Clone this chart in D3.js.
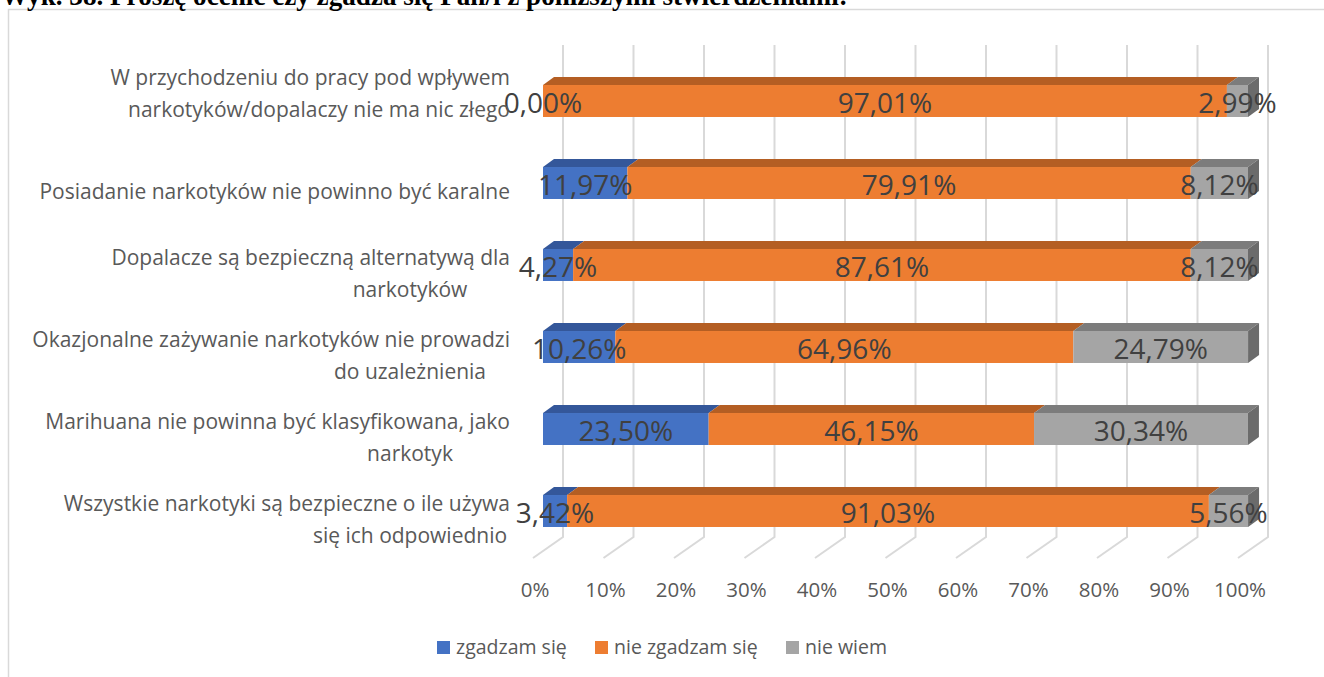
<!DOCTYPE html>
<html><head><meta charset="utf-8">
<script src="https://cdn.jsdelivr.net/npm/d3@7"></script>
<style>body{margin:0;background:#fff;overflow:hidden} svg{display:block}</style>
</head><body><svg id="c" width="1324" height="677"></svg>
<script>
const title = "Wyk. 38. Proszę ocenić czy zgadza się Pan/i z poniższymi stwierdzeniami:";
// category labels as wrapped in the source (first one carries a trailing line break)
const categories = [
  ["W przychodzeniu do pracy pod wpływem", "narkotyków/dopalaczy nie ma nic złego", ""],
  ["Posiadanie narkotyków nie powinno być karalne"],
  ["Dopalacze są bezpieczną alternatywą dla", "narkotyków"],
  ["Okazjonalne zażywanie narkotyków nie prowadzi", "do uzależnienia"],
  ["Marihuana nie powinna być klasyfikowana, jako", "narkotyk"],
  ["Wszystkie narkotyki są bezpieczne o ile używa", "się ich odpowiednio"]
];
const seriesNames = ["zgadzam się", "nie zgadzam się", "nie wiem"];
const agree    = [0.00, 11.97, 4.27, 10.26, 23.50, 3.42];
const disagree = [97.01, 79.91, 87.61, 64.96, 46.15, 91.03];
const dontKnow = [2.99, 8.12, 8.12, 24.79, 30.34, 5.56];
const tickValues = [0, 10, 20, 30, 40, 50, 60, 70, 80, 90, 100];

const frontCol = ["#4472C4", "#ED7D31", "#A5A5A5"];
const topCol   = ["#34579A", "#B45E23", "#7C7C7C"];
const sideCol  = ["#2E4D86", "#9E531F", "#6B6B6B"];

const svg = d3.select("#c");
const fmt = v => v.toFixed(2).replace(".", ",") + "%";

svg.append("rect").attr("x", 8.5).attr("y", 9.5).attr("width", 1400).attr("height", 800)
  .attr("fill", "none").attr("stroke", "#d9d9d9").attr("stroke-width", 1.5);

svg.append("text").attr("x", 1).attr("y", 4.5).text(title)
  .attr("font-family", "'Liberation Serif','Times New Roman',serif")
  .attr("font-weight", "bold").attr("font-size", 20).attr("fill", "#000")
  .each(function(){ const w = this.getComputedTextLength(); d3.select(this).attr("font-size", 20 * 847 / w); });

const x = d3.scaleLinear().domain([0, 100]).range([533, 1238]);
const DX = 30, DY = -21;
const BX = 10;
const TX = 11, TY = -8;
const floorY = 558, wallTop = 45;

const y = d3.scaleBand().domain(d3.range(categories.length)).range([60, 552])
  .paddingInner(0.61).paddingOuter(0.305);

const g = svg.append("g").attr("stroke", "#d9d9d9").attr("stroke-width", 2).attr("fill", "none");
tickValues.forEach(t => {
  g.append("path").attr("d", `M${x(t)},${floorY} L${x(t) + DX},${floorY + DY} L${x(t) + DX},${wallTop}`);
});

svg.append("g").selectAll("text").data(tickValues).join("text")
  .attr("x", d => x(d) + 2).attr("y", 597).attr("text-anchor", "middle")
  .attr("font-family", "'Open Sans',sans-serif").attr("font-size", 20.5).attr("fill", "#595959")
  .text(d => d + "%");

const rows = categories.map((c, i) => ({ i, a: agree[i], b: disagree[i], c: dontKnow[i] }));
const stack = d3.stack().keys(["a", "b", "c"])(rows);

const bars = svg.append("g");
rows.forEach((r, i) => {
  const y0 = y(i), h = y.bandwidth();
  const gb = bars.append("g");
  let lastEnd = null, lastK = 0;
  stack.forEach((s, k) => {
    const [v0, v1] = s[i];
    const x0 = x(v0) + BX, x1 = x(v1) + BX;
    if (v1 - v0 <= 0) return;
    gb.append("path").attr("d", `M${x0},${y0} L${x0 + TX},${y0 + TY} L${x1 + TX},${y0 + TY} L${x1},${y0} Z`)
      .attr("fill", topCol[k]);
    gb.append("rect").attr("x", x0).attr("y", y0).attr("width", x1 - x0).attr("height", h)
      .attr("fill", frontCol[k]);
    lastEnd = x1; lastK = k;
  });
  gb.append("path").attr("d", `M${lastEnd},${y0} L${lastEnd + TX},${y0 + TY} L${lastEnd + TX},${y0 + h + TY} L${lastEnd},${y0 + h} Z`)
    .attr("fill", sideCol[lastK]);
});

const lab = svg.append("g").attr("font-family", "'Open Sans',sans-serif").attr("font-size", 28)
  .attr("fill", "#404040").attr("text-anchor", "middle");
rows.forEach((r, i) => {
  stack.forEach((s, k) => {
    const [v0, v1] = s[i];
    lab.append("text").attr("x", (x(v0) + x(v1)) / 2 + BX).attr("y", y(i) + y.bandwidth() / 2 + 12)
      .text(fmt(v1 - v0));
  });
});

// category labels: first line right-aligned, continuation lines centred in the label column
const cl = svg.append("g").attr("font-family", "'Open Sans',sans-serif").attr("font-size", 21)
  .attr("fill", "#595959");
const labRight = 510, contCenter = 410;
categories.forEach((lines, i) => {
  const cy = y(i) + y.bandwidth() / 2 + 9;
  const lh = 32;
  lines.forEach((ln, j) => {
    if (!ln) return;
    const t = cl.append("text").attr("y", cy + (j - (lines.length - 1) / 2) * lh + 7).text(ln);
    if (j === 0) {
      t.attr("x", labRight).attr("text-anchor", "end");
    } else {
      const w = t.node().getComputedTextLength();
      t.attr("x", Math.min(contCenter - w / 2, labRight - w)).attr("text-anchor", "start");
    }
  });
});

const legX = [437, 595, 786];
const lg = svg.append("g").attr("font-family", "'Open Sans',sans-serif").attr("font-size", 19.5).attr("fill", "#595959");
seriesNames.forEach((n, k) => {
  lg.append("rect").attr("x", legX[k]).attr("y", 641).attr("width", 13).attr("height", 13).attr("fill", frontCol[k]);
  lg.append("text").attr("x", legX[k] + 19).attr("y", 654).text(n);
});
</script></body></html>
